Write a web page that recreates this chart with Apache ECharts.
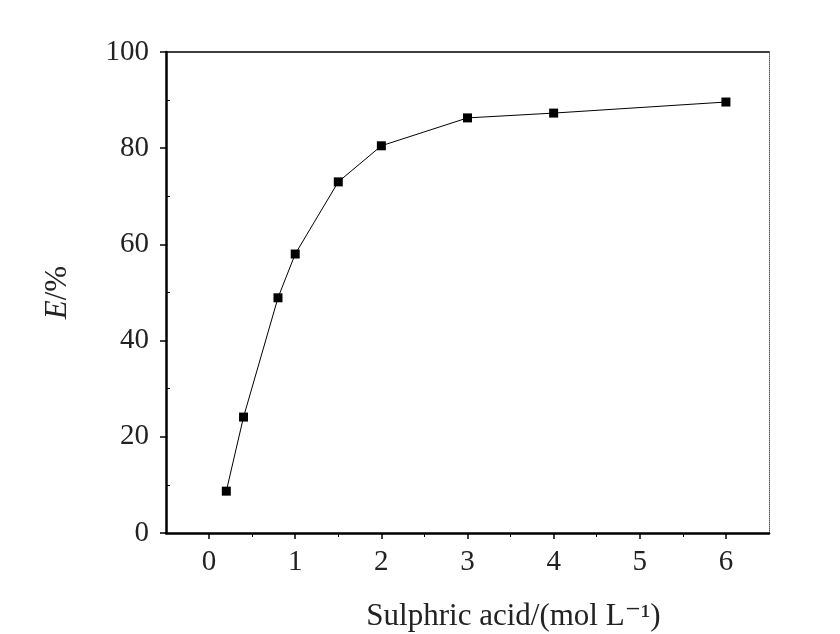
<!DOCTYPE html>
<html>
<head>
<meta charset="utf-8">
<script src="https://cdn.jsdelivr.net/npm/echarts@6/dist/echarts.min.js"></script>
<style>
  html, body { margin: 0; padding: 0; background: #fff; }
  #main { width: 840px; height: 634px; }
</style>
</head>
<body>
<div id="main"></div>
<script>
// data
var acidConc = [0.2, 0.4, 0.8, 1.0, 1.5, 2, 3, 4, 6];
var extraction = [8.7, 24.1, 48.9, 58.0, 73.0, 80.5, 86.3, 87.3, 89.6];
var xMajorTicks = [0, 1, 2, 3, 4, 5, 6];
var xMinorTicks = [0.5, 1.5, 2.5, 3.5, 4.5, 5.5];
var yMinorTicks = [10, 30, 50, 70, 90];

var points = acidConc.map(function (x, i) { return [x, extraction[i]]; });
var font = '"Liberation Serif", "DejaVu Serif", serif';

var myChart = echarts.init(document.getElementById('main'));
myChart.setOption({
  animation: false,
  grid: { left: 166, right: 71, top: 52, bottom: 101, outerBoundsMode: 'none' },
  xAxis: [
    {
      type: 'value', position: 'bottom', min: -0.5, max: 6.5,
      name: 'Sulphric acid/(mol L\u207B\u00B9)',
      nameLocation: 'middle', nameGap: 68,
      nameTextStyle: { fontFamily: font, fontSize: 31, color: '#222', padding: [0, 0, 0, 92] },
      axisLine: { onZero: false, lineStyle: { color: '#000', width: 2.5 } },
      axisTick: { customValues: xMajorTicks, length: 6, lineStyle: { color: '#000', width: 1.5 } },
      axisLabel: { customValues: xMajorTicks, margin: 15, fontFamily: font, fontSize: 29, color: '#222' },
      splitLine: { show: false }
    },
    {
      type: 'value', position: 'bottom', min: -0.5, max: 6.5,
      axisLine: { show: false, onZero: false },
      axisTick: { customValues: xMinorTicks, length: 4, lineStyle: { color: '#000', width: 1 } },
      axisLabel: { show: false },
      splitLine: { show: false }
    },
    {
      type: 'value', position: 'top', min: -0.5, max: 6.5,
      axisLine: { onZero: false, lineStyle: { color: '#000', width: 1.5 } },
      axisTick: { show: false }, axisLabel: { show: false }, splitLine: { show: false }
    }
  ],
  yAxis: [
    {
      type: 'value', position: 'left', min: 0, max: 100, interval: 20,
      name: '{i|E}/%',
      nameLocation: 'middle', nameGap: 93, nameRotate: 90,
      nameTextStyle: {
        fontFamily: font, fontSize: 31, color: '#222',
        rich: { i: { fontFamily: font, fontSize: 31, fontStyle: 'italic', color: '#222' } }
      },
      axisLine: { onZero: false, lineStyle: { color: '#000', width: 2.5 } },
      axisTick: { length: 6, lineStyle: { color: '#000', width: 1.5 } },
      axisLabel: { margin: 17, fontFamily: font, fontSize: 29, color: '#222' },
      splitLine: { show: false }
    },
    {
      type: 'value', position: 'left', min: 0, max: 100,
      axisLine: { show: false, onZero: false },
      axisTick: { customValues: yMinorTicks, inside: true, length: 4, lineStyle: { color: '#000', width: 1 } },
      axisLabel: { show: false },
      splitLine: { show: false }
    },
    {
      type: 'value', position: 'right', min: 0, max: 100,
      axisLine: { onZero: false, lineStyle: { color: '#555', width: 1, type: 'dotted' } },
      axisTick: { show: false }, axisLabel: { show: false }, splitLine: { show: false }
    }
  ],
  series: [
    {
      type: 'line',
      data: points,
      symbol: 'rect',
      symbolSize: 9,
      itemStyle: { color: '#000' },
      lineStyle: { color: '#000', width: 1 }
    }
  ]
});
</script>
</body>
</html>
